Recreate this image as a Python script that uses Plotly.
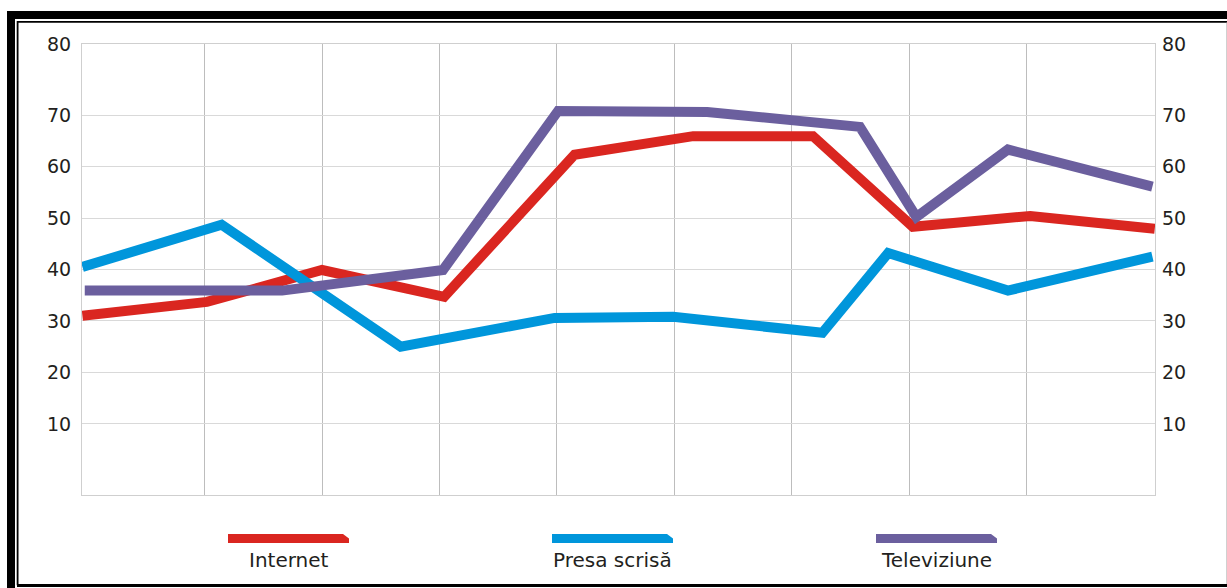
import plotly.graph_objects as go

# ---------------- data ----------------
series_names = ["Internet", "Presa scrisă", "Televiziune"]
series_colors = ["#DA2620", "#0096DB", "#6B5F9E"]

internet_x = [-0.04, 1.02, 2.0, 3.04, 4.15, 5.16, 6.18, 7.03, 8.03, 9.09]
internet_y = [31.0, 33.7, 39.9, 34.7, 62.3, 65.9, 65.9, 48.3, 50.4, 47.9]

presa_x = [-0.04, 1.145, 2.67, 3.98, 4.99, 6.26, 6.82, 7.84, 9.07]
presa_y = [40.5, 48.7, 25.0, 30.6, 30.8, 27.7, 43.2, 35.9, 42.5]

tv_x = [-0.02, 1.66, 3.03, 4.01, 5.28, 6.58, 7.06, 7.84, 9.07]
tv_y = [35.9, 35.9, 39.9, 70.8, 70.6, 67.7, 50.2, 63.3, 56.1]

y_tickvals = [10, 20, 30, 40, 50, 60, 70, 83.79]
y_ticktext = ["10", "20", "30", "40", "50", "60", "70", "80"]
x_gridvals = [1, 2, 3, 4, 5, 6, 7, 8]

# ---------------- figure ----------------
W, H = 1227, 588
ML, MR, MT, MB = 82, 72, 44, 93
PW, PH = W - ML - MR, H - MT - MB


def px(x):
    return (x - ML) / PW


def py(y):
    return (H - MB - y) / PH


fig = go.Figure()
xs = [internet_x, presa_x, tv_x]
ys = [internet_y, presa_y, tv_y]
for name, color, x, y in zip(series_names, series_colors, xs, ys):
    fig.add_trace(go.Scatter(x=x, y=y, mode="lines", name=name,
                             line=dict(color=color, width=10),
                             showlegend=False, hoverinfo="skip"))
# invisible trace to carry the right axis
fig.add_trace(go.Scatter(x=[0], y=[0], yaxis="y2", mode="markers",
                         marker=dict(opacity=0), showlegend=False,
                         hoverinfo="skip"))

tickfont = dict(family="DejaVu Sans", size=19, color="#231F20")

fig.update_layout(
    width=W, height=H,
    margin=dict(l=ML, r=MR, t=MT, b=MB, pad=0),
    paper_bgcolor="white", plot_bgcolor="white",
    xaxis=dict(range=[-0.0434, 9.092], tickvals=x_gridvals, showticklabels=False,
               showgrid=True, gridcolor="#BDBDBD", gridwidth=1, zeroline=False,
               showline=True, linecolor="#CFCFCF", linewidth=1, mirror=True,
               ticks=""),
    yaxis=dict(range=[-3.8, 83.8], tickvals=y_tickvals, ticktext=y_ticktext,
               showgrid=True, gridcolor="#D9D9D9", gridwidth=1, zeroline=False,
               showline=True, linecolor="#CFCFCF", linewidth=1, mirror=True,
               ticks="", tickfont=tickfont, ticklabelstandoff=6),
    yaxis2=dict(range=[-3.8, 83.8], tickvals=y_tickvals, ticktext=y_ticktext,
                overlaying="y", side="right", showgrid=False, zeroline=False,
                showline=False, ticks="", tickfont=tickfont,
                ticklabelstandoff=6),
)

shapes = []
# frame
def rect(x0, y0, x1, y1, color):
    shapes.append(dict(type="rect", xref="paper", yref="paper",
                       x0=px(x0), x1=px(x1), y0=py(y0), y1=py(y1),
                       line=dict(width=0), fillcolor=color, layer="above"))

rect(7, 11, 1227, 19, "black")        # top thick
rect(17, 21, 1227, 22.7, "black")     # top thin
rect(7, 11, 15, 588, "black")         # left thick
rect(16.7, 21, 18.5, 585.3, "black")  # left thin
rect(17, 584, 1227, 587, "black")     # bottom
rect(1226, 22.7, 1227, 584, "#D0D0D0")  # right faint

# legend bars with chamfered corner
bar_left = [228, 552, 876]
bar_w, bar_top, bar_bot = 121, 534, 543
for name, color, x0 in zip(series_names, series_colors, bar_left):
    x1 = x0 + bar_w
    path = (f"M {px(x0)},{py(bar_top)} L {px(x1 - 6)},{py(bar_top)} "
            f"L {px(x1)},{py(bar_top + 4.5)} L {px(x1)},{py(bar_bot)} "
            f"L {px(x0)},{py(bar_bot)} Z")
    shapes.append(dict(type="path", xref="paper", yref="paper", path=path,
                       fillcolor=color, line=dict(width=0)))
    fig.add_annotation(x=px(x0 + bar_w / 2), y=py(560), xref="paper", yref="paper",
                       text=name, showarrow=False, xanchor="center",
                       yanchor="middle",
                       font=dict(family="DejaVu Sans", size=20, color="#231F20"))

fig.update_layout(shapes=shapes)
fig.write_html("out.html")
